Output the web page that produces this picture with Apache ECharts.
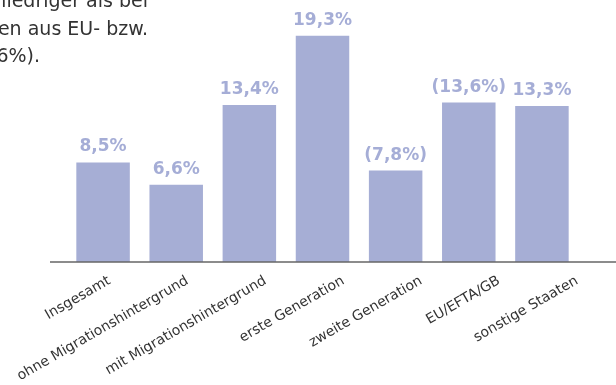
<!DOCTYPE html>
<html>
<head>
<meta charset="utf-8">
<script src="https://cdn.jsdelivr.net/npm/echarts@6/dist/echarts.min.js"></script>
<style>
html,body{margin:0;padding:0;background:#fff;}
#c{width:616px;height:385px;}
</style>
</head>
<body>
<div id="c"></div>
<script>
var categories = ['Insgesamt', 'ohne Migrationshintergrund', 'mit Migrationshintergrund', 'erste Generation', 'zweite Generation', 'EU/EFTA/GB', 'sonstige Staaten'];
var values = [8.5, 6.6, 13.4, 19.3, 7.8, 13.6, 13.3];
var uncertain = [false, false, false, false, true, true, false];
var introLines = ['niedriger als bei', 'en aus EU- bzw.', '6%).'];

function fmt(v, u) {
  var s = v.toFixed(1).replace('.', ',') + '%';
  return u ? '(' + s + ')' : s;
}

var chart = echarts.init(document.getElementById('c'), null, {renderer: 'canvas'});
var barColor = '#a6aed5';
var labelFont = 'DejaVu Sans';

chart.setOption({
  animation: false,
  backgroundColor: '#ffffff',
  grid: [
    {left: 66.5, width: 512, top: 27.6, bottom: 123},
    {left: 70.5, width: 547, top: 27.6, bottom: 123}
  ],
  xAxis: [
    {
      type: 'category', gridIndex: 0, data: categories,
      axisLine: {show: false}, axisTick: {show: false}, axisLabel: {show: false}
    },
    {
      type: 'category', gridIndex: 1, data: categories,
      axisLine: {show: false}, axisTick: {show: false},
      axisLabel: {show: true, rotate: 30, interval: 0, margin: 19, color: '#333333', fontSize: 14, fontFamily: labelFont}
    }
  ],
  yAxis: [
    {type: 'value', gridIndex: 0, min: 0, max: 20, show: false},
    {type: 'value', gridIndex: 1, min: 0, max: 20, show: false}
  ],
  series: [{
    type: 'bar',
    xAxisIndex: 0, yAxisIndex: 0,
    data: values,
    barWidth: 53.5,
    itemStyle: {color: barColor},
    label: {
      show: true, position: 'top', distance: 7,
      color: '#a5add6', fontSize: 17, fontWeight: 'bold', fontFamily: labelFont,
      formatter: function (p) { return fmt(p.value, uncertain[p.dataIndex]); }
    }
  }],
  graphic: [
    {type: 'line', shape: {x1: 50, y1: 262, x2: 616, y2: 262}, style: {stroke: '#666666', lineWidth: 1.5}, z: 10},
    {type: 'text', x: 148, y: 12, style: {text: introLines[0], fill: '#333333', font: '19px "DejaVu Sans"', textAlign: 'right', textVerticalAlign: 'bottom'}},
    {type: 'text', x: 148, y: 40, style: {text: introLines[1], fill: '#333333', font: '19px "DejaVu Sans"', textAlign: 'right', textVerticalAlign: 'bottom'}},
    {type: 'text', x: 40, y: 67, style: {text: introLines[2], fill: '#333333', font: '19px "DejaVu Sans"', textAlign: 'right', textVerticalAlign: 'bottom'}}
  ]
});
</script>
</body>
</html>
